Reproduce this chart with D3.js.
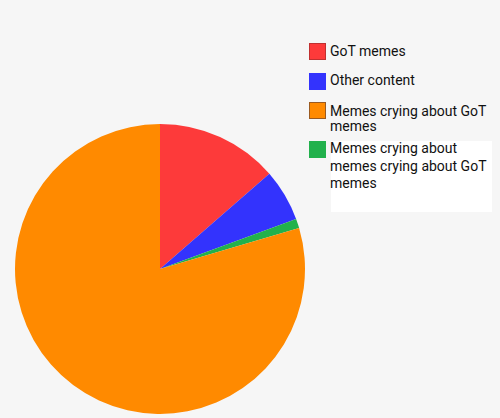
<!DOCTYPE html>
<html><head><meta charset="utf-8">
<script src="https://cdn.jsdelivr.net/npm/d3@7"></script>
<style>html,body{margin:0;padding:0;background:#f6f6f6;}svg{display:block;}</style>
</head><body>
<script>
const categories = ["GoT memes", "Other content", "Memes crying about GoT memes", "Memes crying about memes crying about GoT memes"];
const values = [13.6, 5.8, 79.55, 1.05];
const colors = ["#fd3a3a", "#3333fd", "#ff8a00", "#22b14c"];
const legendLines = [["GoT memes"], ["Other content"], ["Memes crying about GoT", "memes"], ["Memes crying about", "memes crying about GoT", "memes"]];
const sliceOrder = [0, 1, 3, 2]; // drawing order clockwise from 12 o'clock

const W = 500, H = 418;
const svg = d3.select("body").append("svg").attr("width", W).attr("height", H);
svg.append("rect").attr("width", W).attr("height", H).attr("fill", "#f6f6f6");
svg.append("rect").attr("x", 331).attr("y", 141).attr("width", 161).attr("height", 71).attr("fill", "#ffffff");

const pieData = sliceOrder.map(i => ({i, v: values[i]}));
const pie = d3.pie().sort(null).value(d => d.v);
const arc = d3.arc().innerRadius(0).outerRadius(145);
const g = svg.append("g").attr("transform", "translate(160,269)");
g.selectAll("path").data(pie(pieData)).join("path")
  .attr("d", arc).attr("fill", d => colors[d.data.i]);

const swY = [43, 73, 102, 141];
const baseY = [[56], [85], [116, 131], [153, 170.5, 188]];
const leg = svg.append("g");
categories.forEach((c, i) => {
  leg.append("rect").attr("x", 309.5).attr("y", swY[i] + 0.5).attr("width", 16).attr("height", 16)
    .attr("fill", colors[i])
    .attr("stroke", i === 2 ? "#9a5a20" : (i === 0 ? "#c03030" : colors[i])).attr("stroke-width", 1);
  legendLines[i].forEach((t, k) => {
    leg.append("text").attr("x", 330).attr("y", baseY[i][k])
      .attr("font-family", "Roboto, 'Open Sans', sans-serif").attr("font-size", 14)
      .attr("fill", "#111").text(t);
  });
});
</script>
</body></html>
